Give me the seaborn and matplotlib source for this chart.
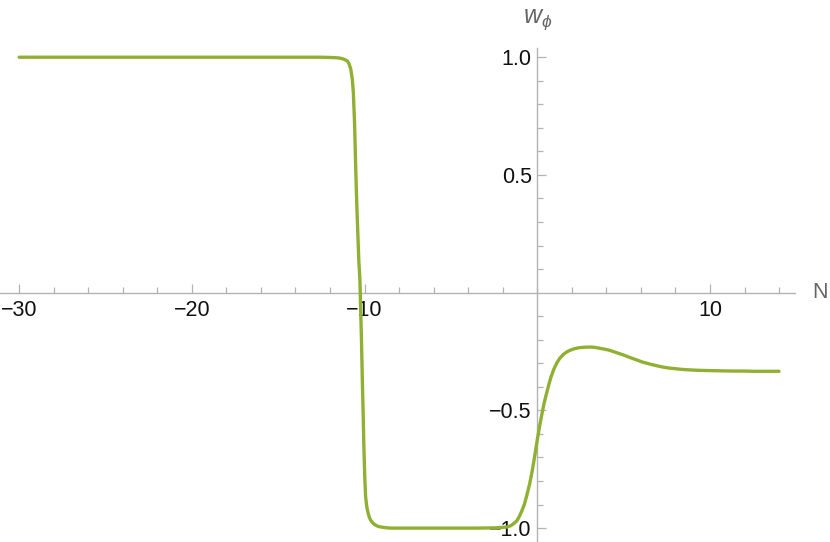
import matplotlib
matplotlib.use("Agg")
import matplotlib.pyplot as plt
import seaborn as sns
import pandas as pd
from matplotlib.ticker import FixedLocator, FixedFormatter

# ---- data ----
N_values = [-30, -25, -20, -15, -12.5, -12.0, -11.7, -11.5, -11.3, -11.15, -11.0, -10.9,
            -10.8, -10.71, -10.65, -10.58, -10.52, -10.47, -10.43, -10.38, -10.33, -10.27,
            -10.23, -10.18, -10.13, -10.08, -10.04, -9.99, -9.94, -9.87, -9.8, -9.72, -9.65,
            -9.5, -9.35, -9.2, -9.08, -8.8, -8.5, -7, -5, -3.5, -2.5, -2.0, -1.74, -1.55,
            -1.4, -1.19, -1.05, -0.9, -0.75, -0.61, -0.45, -0.3, -0.15, 0.0, 0.14, 0.27,
            0.4, 0.54, 0.67, 0.8, 0.96, 1.12, 1.3, 1.5, 1.7, 1.89, 2.15, 2.4, 2.7, 3.04,
            3.3, 3.6, 3.9, 4.2, 4.6, 5.0, 5.35, 5.73, 6.1, 6.5, 6.9, 7.27, 7.6, 8.0, 8.4,
            8.81, 9.4, 10.0, 10.6, 11.3, 12.0, 12.5, 13.2, 14.0]
w_values = [1.0, 1.0, 1.0, 1.0, 1.0, 0.999, 0.998, 0.997, 0.994, 0.99, 0.984, 0.972,
            0.95, 0.906, 0.85, 0.72, 0.55, 0.42, 0.33, 0.23, 0.13, 0.055,
            -0.06, -0.2, -0.37, -0.52, -0.654, -0.78, -0.867, -0.91, -0.935, -0.955, -0.966,
            -0.98, -0.988, -0.993, -0.995, -0.998, -1.0, -1.0, -1.0, -1.0, -0.999, -0.997,
            -0.995, -0.99, -0.983, -0.97, -0.952, -0.928, -0.9, -0.862, -0.815, -0.76,
            -0.695, -0.625, -0.565, -0.515, -0.468, -0.427, -0.39, -0.357, -0.325, -0.30, -0.279,
            -0.263, -0.252, -0.245, -0.238, -0.234, -0.232, -0.231, -0.232, -0.236, -0.24,
            -0.245, -0.255, -0.265, -0.275, -0.285, -0.295, -0.303, -0.31, -0.316, -0.32,
            -0.323, -0.326, -0.328, -0.33, -0.331, -0.332, -0.333, -0.333, -0.334, -0.334,
            -0.334]

x_major_ticks = [-30, -20, -10, 10]
x_major_labels = ["\u221230", "\u221220", "\u221210", "10"]
x_minor_ticks = [t for t in range(-30, 15, 2) if t not in (-30, -20, -10, 10)]
y_major_ticks = [-1.0, -0.5, 0.5, 1.0]
y_major_labels = ["\u22121.0", "\u22120.5", "0.5", "1.0"]
y_minor_ticks = [-0.9, -0.8, -0.7, -0.6, -0.4, -0.3, -0.2, -0.1, 0.1, 0.2, 0.3, 0.4,
                 0.6, 0.7, 0.8, 0.9]

df = pd.DataFrame({"N": N_values, "w": w_values})

sns.set_theme(style="white")
plt.rcParams["font.family"] = ["Liberation Sans", "DejaVu Sans"]
plt.rcParams["mathtext.fontset"] = "custom"
plt.rcParams["mathtext.it"] = "Liberation Sans:italic"
plt.rcParams["mathtext.rm"] = "Liberation Sans"

fig = plt.figure(figsize=(8.3, 5.42), dpi=100)
ax = fig.add_axes([0, 0, 1, 1])

sns.lineplot(data=df, x="N", y="w", sort=False, color="#8fb032", linewidth=2.4,
             ax=ax, zorder=3)

ax.set_xlim(-31.11, 16.95)
ax.set_ylim(-1.059, 1.243)

axis_col = "#b3b3b3"
for s in ["top", "right"]:
    ax.spines[s].set_visible(False)
ax.spines["bottom"].set_position(("data", 0))
ax.spines["left"].set_position(("data", 0))
ax.spines["bottom"].set_bounds(-31.11, 14.92)
ax.spines["left"].set_bounds(-1.059, 1.04)
for s in ["bottom", "left"]:
    ax.spines[s].set_color(axis_col)
    ax.spines[s].set_linewidth(1.0)
    ax.spines[s].set_zorder(1)

ax.xaxis.set_major_locator(FixedLocator(x_major_ticks))
ax.xaxis.set_major_formatter(FixedFormatter(x_major_labels))
ax.xaxis.set_minor_locator(FixedLocator(x_minor_ticks))
ax.yaxis.set_major_locator(FixedLocator(y_major_ticks))
ax.yaxis.set_major_formatter(FixedFormatter(y_major_labels))
ax.yaxis.set_minor_locator(FixedLocator(y_minor_ticks))

ax.tick_params(which="both", bottom=True, left=True, top=False, right=False,
               direction="in", color=axis_col, width=0.9,
               labelsize=15.5, labelcolor="#111111")
ax.tick_params(which="major", length=6.5)
ax.tick_params(which="minor", length=4)
ax.tick_params(axis="x", which="major", pad=5)
ax.tick_params(axis="y", which="major", pad=4)
ax.set_axisbelow(True)

ax.set_xlabel("")
ax.set_ylabel("")
ax.text(16.37, 0.0, "N", fontsize=15.5, color="#666666", ha="center", va="center")
ax.text(0.0, 1.16, r"$w_{\phi}$", fontsize=18, color="#666666", ha="center", va="center")

fig.savefig("out.png", dpi=100)
